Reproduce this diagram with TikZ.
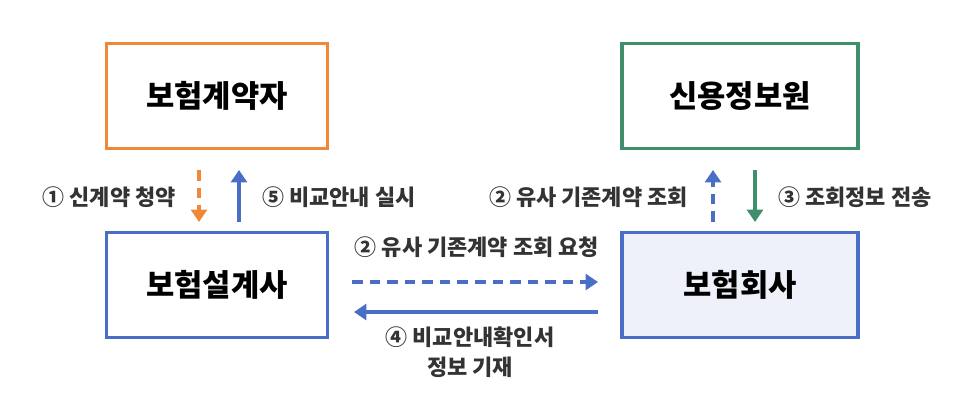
\documentclass[tikz,border=0pt]{standalone}
\usepackage{fontspec}
\setmainfont{Noto Sans CJK KR}
\usetikzlibrary{arrows.meta}
\definecolor{org}{HTML}{F0883A}
\definecolor{grn}{HTML}{3F8F6C}
\definecolor{blu}{HTML}{4A6EC6}
\definecolor{lfill}{HTML}{EEF1FA}
\begin{document}
\begin{tikzpicture}[x=0.02cm,y=-0.02cm,
 box/.style={draw,line width=2.2pt,minimum height=2.1cm,font=\fontsize{17.5}{20}\selectfont\bfseries},
 lab/.style={font=\fontsize{12.5}{17}\selectfont\bfseries,text=black!80},
 arr/.style={line width=2.2pt,-{Triangle[length=7pt,width=9pt]}},
 dsh/.style={dash pattern=on 6pt off 4pt}]
\useasboundingbox (0,0) rectangle (976,410);
\node[box,draw=org,minimum width=4.42cm] (a) at (217,96) {보험계약자};
\node[box,draw=grn,minimum width=4.72cm] (c) at (740,96) {신용정보원};
\node[box,draw=blu,minimum width=4.42cm] (b) at (217,285) {보험설계사};
\node[box,draw=blu,fill=lfill,minimum width=4.72cm] (d) at (740,285) {보험회사};
\coordinate (a1) at (199,170); \coordinate (a2) at (199,222);
\coordinate (b1) at (239,222); \coordinate (b2) at (239,170);
\coordinate (c1) at (713,222); \coordinate (c2) at (713,170);
\coordinate (d1) at (755,170); \coordinate (d2) at (755,222);
\coordinate (e1) at (352,282); \coordinate (e2) at (598,282);
\coordinate (f1) at (598,312); \coordinate (f2) at (354,312);
\draw[arr,org,dsh] (a1) -- (a2);
\draw[arr,blu] (b1) -- (b2);
\draw[arr,blu,dsh] (c1) -- (c2);
\draw[arr,grn] (d1) -- (d2);
\draw[arr,blu,dsh] (e1) -- (e2);
\draw[arr,blu] (f1) -- (f2);
\node[lab,anchor=east] (l1) at (182,197) {① 신계약 청약};
\node[lab,anchor=west] (l5) at (256,197) {⑤ 비교안내 실시};
\node[lab,anchor=east] (l2) at (694,197) {② 유사 기존계약 조회};
\node[lab,anchor=west] (l3) at (772,197) {③ 조회정보 전송};
\node[lab] (l2b) at (477,247) {② 유사 기존계약 조회 요청};
\node[lab,align=center] (l4) at (470,352) {④ 비교안내확인서\\정보 기재};
\end{tikzpicture}
\end{document}
